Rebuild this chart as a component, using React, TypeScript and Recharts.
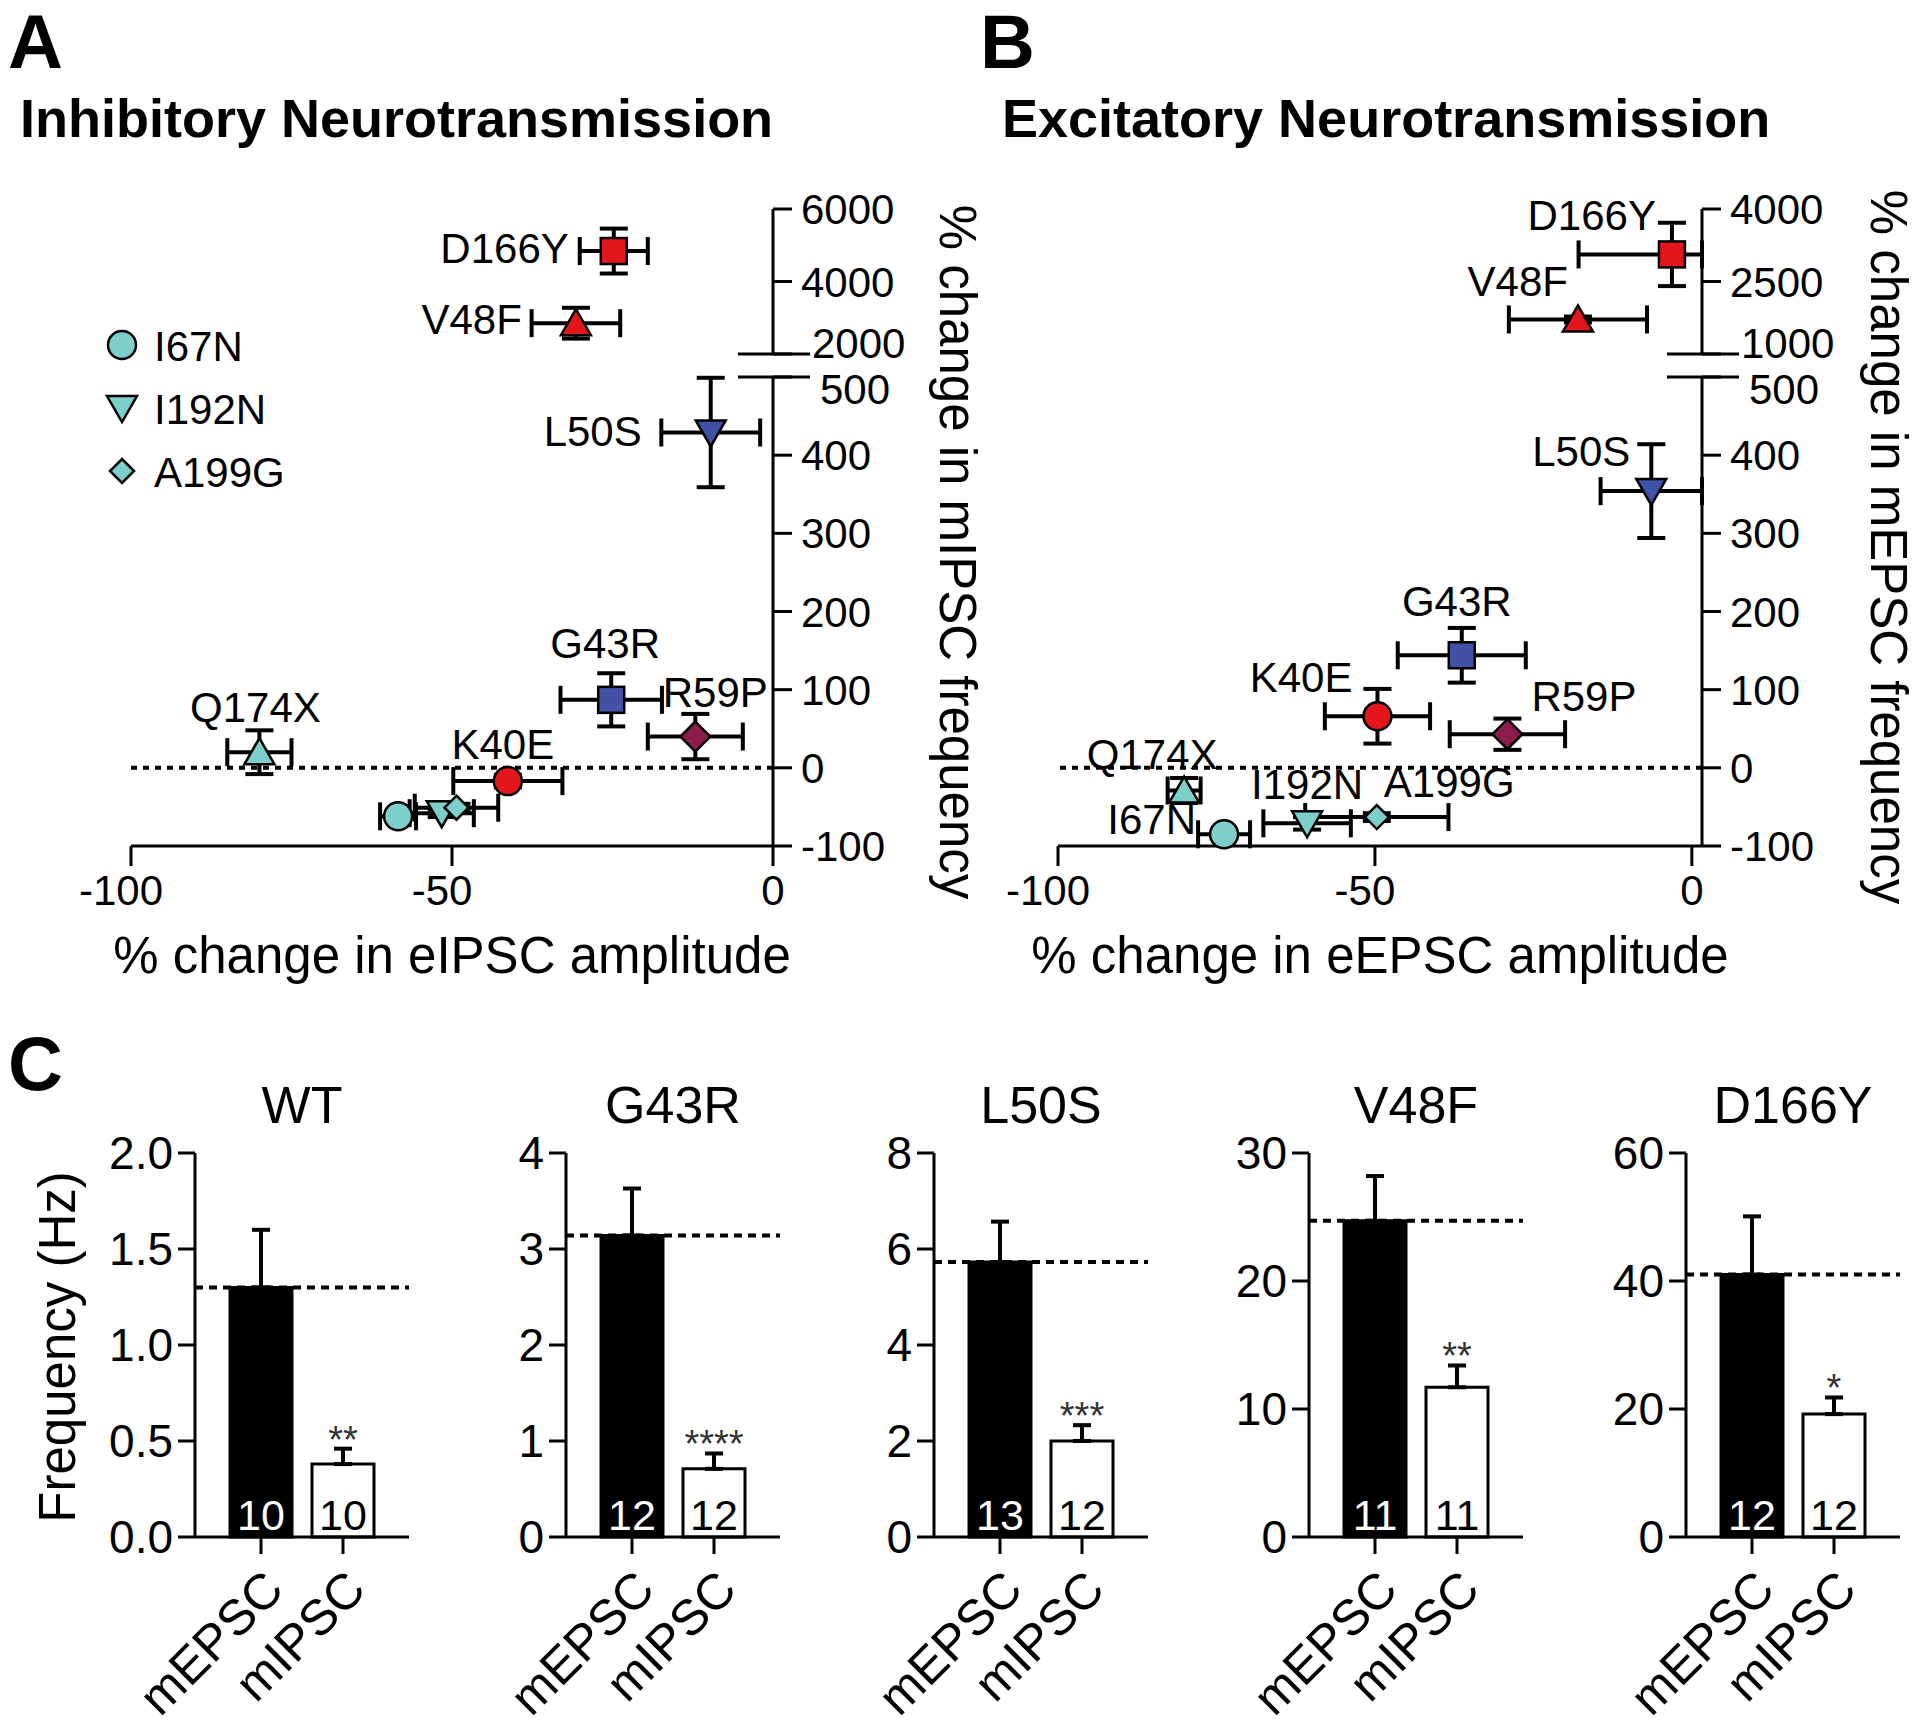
import React from 'react'
import {
    ScatterChart,
    Scatter,
    BarChart,
    Bar,
    Cell,
    XAxis,
    YAxis,
    ErrorBar,
    ReferenceLine,
    LabelList,
    Label
} from 'recharts'

const FONT = '"Liberation Sans", Arial, Helvetica, sans-serif'

// colours
const cyan = '#7dcfca'
const red = '#e3161c'
const blue = '#4152a6'
const maroon = '#8c1c4c'

// mutants, shown in both scatter panels
const mutants = ['I67N', 'I192N', 'A199G', 'Q174X', 'K40E', 'R59P', 'G43R', 'L50S', 'V48F', 'D166Y']
const markerKinds = ['circle', 'down', 'diamondSmall', 'up', 'circle', 'diamond', 'square', 'down', 'up', 'square']
const markerColors = [cyan, cyan, cyan, cyan, red, maroon, blue, blue, red, red]

// A: inhibitory (% change eIPSC amplitude vs % change mIPSC frequency)
const inhAmp = [-58.4, -51.6, -49.3, -80.0, -41.3, -12.1, -25.2, -9.7, -30.7, -24.8]
const inhAmpErr = [2.8, 5.0, 6.5, 5.0, 8.5, 7.4, 7.9, 7.7, 6.9, 5.3]
const inhFreq = [-62, -58, -51, 20, -17, 40, 87, 429, 2850, 4840]
const inhFreqErr = [5, 5, 5, 28, 8, 29, 34, 70, 425, 620]

// B: excitatory (% change eEPSC amplitude vs % change mEPSC frequency)
const excAmp = [-73.8, -60.7, -49.7, -80.1, -49.6, -29.1, -36.3, -6.4, -18.7, -4.0]
const excAmpErr: (number | number[])[] = [4.1, 6.9, 11.3, 2.6, 8.3, 9.1, 10.1, 8.0, 10.8, [14.6, 4.7]]
const excFreq = [-85, -71, -63, -29, 66, 43, 144, 354, 1715, 3060]
const excFreqErr = [5, 8, 5, 16, 35, 20, 35, 60, 60, 655]

// axis ticks
const ampTicks = [-100, -50, 0]
const lowerTicks = [-100, 0, 100, 200, 300, 400, 500]
const inhUpperTicks = [2000, 4000, 6000]
const excUpperTicks = [1000, 2500, 4000]

// C: mini frequency (Hz)
const freqPanels = ['WT', 'G43R', 'L50S', 'V48F', 'D166Y']
const freqCats = ['mEPSC', 'mIPSC']
const mepscMean = [1.30, 3.14, 5.73, 24.7, 41.0]
const mepscSem = [0.30, 0.49, 0.84, 3.5, 9.1]
const mipscMean = [0.38, 0.71, 2.0, 11.7, 19.2]
const mipscSem = [0.08, 0.16, 0.33, 1.7, 2.6]
const mepscN = [10, 12, 13, 11, 12]
const mipscN = [10, 12, 12, 11, 12]
const sigStars = ['**', '****', '***', '**', '*']
const freqMax = [2, 4, 8, 30, 60]
const freqTicks = [[0, 0.5, 1, 1.5, 2], [0, 1, 2, 3, 4], [0, 2, 4, 6, 8], [0, 10, 20, 30], [0, 20, 40, 60]]
const freqDecimals = [1, 0, 0, 0, 0]

// label placement next to each marker: dx, dy, anchor
type LabelPos = [number, number, 'start' | 'middle' | 'end']
const inhLabelPos: Record<string, LabelPos> = {
    Q174X: [-4, -45, 'middle'],
    K40E: [-5, -37, 'middle'],
    R59P: [20, -45, 'middle'],
    G43R: [-6, -57, 'middle'],
    L50S: [-69, -2, 'end'],
    V48F: [-54, -4, 'end'],
    D166Y: [-45, -3, 'end']
}
const excLabelPos: Record<string, LabelPos> = {
    I67N: [-28, -15, 'end'],
    I192N: [0, -39, 'middle'],
    A199G: [7, -35, 'start'],
    Q174X: [-32, -37, 'middle'],
    K40E: [-25, -39, 'end'],
    R59P: [24, -38, 'start'],
    G43R: [-5, -54, 'middle'],
    L50S: [-21, -40, 'end'],
    V48F: [-10, -39, 'end'],
    D166Y: [-16, -40, 'end']
}

type Pt = { name: string; kind: string; color: string; x: number; y: number; ex: number | number[]; ey: number }

const buildPoints = (amp: number[], ampErr: (number | number[])[], freq: number[], freqErr: number[]): Pt[] =>
    mutants.map((name, i) => ({
        name,
        kind: markerKinds[i],
        color: markerColors[i],
        x: amp[i],
        y: freq[i],
        ex: ampErr[i],
        ey: freqErr[i]
    }))

const inhPoints = buildPoints(inhAmp, inhAmpErr, inhFreq, inhFreqErr)
const excPoints = buildPoints(excAmp, excAmpErr, excFreq, excFreqErr)

const Marker = ({ cx, cy, kind, color }: { cx: number; cy: number; kind: string; color: string }) => {
    const st = { fill: color, stroke: '#000', strokeWidth: 2.5 }
    if (kind === 'circle') return <circle cx={cx} cy={cy} r={14} {...st} />
    if (kind === 'square') return <rect x={cx - 13} y={cy - 13} width={26} height={26} {...st} />
    if (kind === 'up') return <polygon points={`${cx},${cy - 14} ${cx + 15},${cy + 12} ${cx - 15},${cy + 12}`} {...st} />
    if (kind === 'down') return <polygon points={`${cx - 15},${cy - 12} ${cx + 15},${cy - 12} ${cx},${cy + 14}`} {...st} />
    const d = kind === 'diamond' ? 15 : 12
    return <polygon points={`${cx},${cy - d} ${cx + d},${cy} ${cx},${cy + d} ${cx - d},${cy}`} {...st} />
}

const XTick = ({ x, y, payload }: any) => (
    <text x={x - (payload.value < 0 ? 10 : 0)} y={y} dy="0.71em" textAnchor="middle" fontSize={42} fill="#000">
        {payload.value}
    </text>
)

// right-hand y ticks; the break value gets the long double-bar mark
const YTick = ({ x, y, payload, brk, brkDx, brkDy }: any) => {
    const isBrk = payload.value === brk
    const ax = x - 28
    return (
        <g>
            {isBrk && <line x1={ax - 35} x2={ax + 37} y1={y} y2={y} stroke="#000" strokeWidth={3} />}
            <text x={x + (isBrk ? brkDx : 0)} y={y + (isBrk ? brkDy : 0)} dy="0.36em" fontSize={42} fill="#000">
                {payload.value}
            </text>
        </g>
    )
}

const axisStyle = { stroke: '#000', strokeWidth: 3 }
const errStyle = { stroke: '#000', strokeWidth: 4 }

const seriesFor = (list: Pt[], labelPos: Record<string, LabelPos>) => [
    ...list.map((p) => (
        <Scatter key={`e-${p.name}`} data={[p]} isAnimationActive={false} shape={() => <g />}>
            <ErrorBar dataKey="ex" direction="x" width={14} {...errStyle} />
            <ErrorBar dataKey="ey" direction="y" width={14} {...errStyle} />
        </Scatter>
    )),
    ...list.map((p) => {
        const lp = labelPos[p.name]
        return (
            <Scatter
                key={`m-${p.name}`}
                data={[p]}
                isAnimationActive={false}
                shape={(s: any) => (
                    <g>
                        <Marker cx={s.cx} cy={s.cy} kind={p.kind} color={p.color} />
                        {lp && (
                            <text x={s.cx + lp[0]} y={s.cy + lp[1]} dy="0.36em" textAnchor={lp[2]} fontSize={42} fill="#000">
                                {p.name}
                            </text>
                        )}
                    </g>
                )}
            />
        )
    })
]

type PanelProps = {
    pts: Pt[]
    labelPos: Record<string, LabelPos>
    svgLeft: number
    plotLeft: number
    plotRight: number
    upperTicks: number[]
    xTitle: string
}

const ScatterPanel = ({ pts, labelPos, svgLeft, plotLeft, plotRight, upperTicks, xTitle }: PanelProps) => {
    const W = 960
    const H = 1010
    const YW = 110
    const ml = plotLeft - svgLeft
    const mr = W - (plotRight - svgLeft) - YW
    const lowMax = lowerTicks[lowerTicks.length - 1]
    const upper = pts.filter((p) => p.y > lowMax)
    const lower = pts.filter((p) => p.y <= lowMax)
    const upperDomain = [upperTicks[0], upperTicks[upperTicks.length - 1]]
    return (
        <>
            {/* lower segment, -100 .. 500 */}
            <div style={{ position: 'absolute', left: svgLeft, top: 0 }}>
                <ScatterChart width={W} height={H} margin={{ top: 377, left: ml, right: mr, bottom: H - 846 - 150 }}>
                    <XAxis
                        type="number"
                        dataKey="x"
                        domain={[ampTicks[0], ampTicks[ampTicks.length - 1]]}
                        ticks={ampTicks}
                        height={150}
                        tickSize={20}
                        tickMargin={9}
                        axisLine={axisStyle}
                        tickLine={axisStyle}
                        tick={<XTick />}
                    >
                        <Label value={xTitle} position="insideBottom" offset={23} fontSize={51} fill="#000" />
                    </XAxis>
                    <YAxis
                        type="number"
                        dataKey="y"
                        orientation="right"
                        domain={[lowerTicks[0], lowMax]}
                        ticks={lowerTicks}
                        width={YW}
                        tickSize={19}
                        tickMargin={9}
                        axisLine={axisStyle}
                        tickLine={axisStyle}
                        tick={(p: any) => <YTick {...p} brk={lowMax} brkDx={19} brkDy={12} />}
                    />
                    <ReferenceLine y={0} stroke="#000" strokeWidth={4} strokeDasharray="6 6" />
                    {seriesFor(lower, labelPos)}
                </ScatterChart>
            </div>
            {/* upper segment above the axis break */}
            <div style={{ position: 'absolute', left: svgLeft, top: 0 }}>
                <ScatterChart width={W} height={H} margin={{ top: 209, left: ml, right: mr, bottom: H - 354 }}>
                    <XAxis
                        type="number"
                        dataKey="x"
                        domain={[ampTicks[0], ampTicks[ampTicks.length - 1]]}
                        hide
                        height={0}
                    />
                    <YAxis
                        type="number"
                        dataKey="y"
                        orientation="right"
                        domain={upperDomain}
                        ticks={upperTicks}
                        width={YW}
                        tickSize={19}
                        tickMargin={9}
                        axisLine={axisStyle}
                        tickLine={axisStyle}
                        tick={(p: any) => <YTick {...p} brk={upperTicks[0]} brkDx={11} brkDy={-11} />}
                    />
                    {seriesFor(upper, labelPos)}
                </ScatterChart>
            </div>
        </>
    )
}

const freqAxisX = [195, 566, 934, 1309, 1686]

const RotTick = ({ x, y, payload }: any) => {
    const ax = x + 25
    const ay = y + 38
    return (
        <text x={ax} y={ay} transform={`rotate(-45 ${ax} ${ay})`} textAnchor="end" fontSize={50} fill="#000">
            {payload.value}
        </text>
    )
}

const FreqPanel = ({ i }: { i: number }) => {
    const data = [
        { cat: freqCats[0], v: mepscMean[i], e: [0, mepscSem[i]], n: mepscN[i] },
        { cat: freqCats[1], v: mipscMean[i], e: [0, mipscSem[i]], n: mipscN[i] }
    ]
    const stars = (p: any) => {
        const vb = p.viewBox || p
        if (p.index !== 1) return null
        const errTop = vb.y - vb.height * (mipscSem[i] / mipscMean[i])
        return (
            <text x={vb.x + vb.width / 2} y={errTop + 4} textAnchor="middle" fontSize={38} fill="#333">
                {sigStars[i]}
            </text>
        )
    }
    const count = (p: any) => {
        const vb = p.viewBox || p
        return (
            <text x={vb.x + vb.width / 2} y={vb.y + vb.height - 7} textAnchor="middle" fontSize={43} fill={p.index === 0 ? '#fff' : '#000'}>
                {p.value}
            </text>
        )
    }
    return (
        <div style={{ position: 'absolute', left: freqAxisX[i] - 100, top: 1100 }}>
            <BarChart width={324} height={633} data={data} margin={{ top: 53, right: 10, left: 0, bottom: 0 }} barSize={62}>
                <XAxis
                    dataKey="cat"
                    padding={{ left: 25, right: 25 }}
                    height={196}
                    tickSize={17}
                    tickMargin={0}
                    interval={0}
                    axisLine={axisStyle}
                    tickLine={axisStyle}
                    tick={<RotTick />}
                />
                <YAxis
                    domain={[0, freqMax[i]]}
                    ticks={freqTicks[i]}
                    width={100}
                    tickSize={17}
                    tickMargin={5}
                    axisLine={axisStyle}
                    tickLine={axisStyle}
                    tick={{ fill: '#000', fontSize: 46 }}
                    tickFormatter={(v: number) => v.toFixed(freqDecimals[i])}
                />
                <ReferenceLine y={mepscMean[i]} stroke="#000" strokeWidth={4} strokeDasharray="8 6" />
                <Bar dataKey="v" isAnimationActive={false} stroke="#000" strokeWidth={3}>
                    <Cell fill="#000" />
                    <Cell fill="#fff" />
                    <ErrorBar dataKey="e" direction="y" width={9} {...errStyle} />
                    <LabelList dataKey="n" content={count} />
                    <LabelList dataKey="v" content={stars} />
                </Bar>
            </BarChart>
        </div>
    )
}

const legendKinds = [0, 1, 2]

const App = () => {
    return (
        <div
            style={{
                position: 'absolute',
                left: 0,
                top: 0,
                width: 1920,
                height: 1733,
                background: '#fff',
                fontFamily: FONT,
                overflow: 'hidden'
            }}
        >
            <ScatterPanel
                pts={inhPoints}
                labelPos={inhLabelPos}
                svgLeft={0}
                plotLeft={131}
                plotRight={773}
                upperTicks={inhUpperTicks}
                xTitle="% change in eIPSC amplitude"
            />
            <ScatterPanel
                pts={excPoints}
                labelPos={excLabelPos}
                svgLeft={960}
                plotLeft={1058}
                plotRight={1702}
                upperTicks={excUpperTicks}
                xTitle="% change in eEPSC amplitude"
            />
            {freqPanels.map((_, i) => (
                <FreqPanel key={i} i={i} />
            ))}

            {/* free text: panel letters, titles, rotated axis titles, legend */}
            <svg width={1920} height={1733} style={{ position: 'absolute', left: 0, top: 0, pointerEvents: 'none' }}>
                <g fontWeight="bold" fill="#000">
                    <text x={8} y={68} fontSize={76}>A</text>
                    <text x={980} y={68} fontSize={76}>B</text>
                    <text x={8} y={1090} fontSize={76}>C</text>
                    <text x={20} y={137} fontSize={54}>Inhibitory Neurotransmission</text>
                    <text x={1002} y={137} fontSize={54}>Excitatory Neurotransmission</text>
                </g>
                <text transform="translate(940,552) rotate(90)" textAnchor="middle" fontSize={51} fill="#000">
                    % change in mIPSC frequency
                </text>
                <text transform="translate(1871,547) rotate(90)" textAnchor="middle" fontSize={51} fill="#000">
                    % change in mEPSC frequency
                </text>
                <text transform="translate(75,1347) rotate(-90)" textAnchor="middle" fontSize={51} fill="#000">
                    Frequency (Hz)
                </text>
                {freqPanels.map((t, i) => (
                    <text key={t} x={freqAxisX[i] + 107} y={1123} textAnchor="middle" fontSize={52} fill="#000">
                        {t}
                    </text>
                ))}
                {legendKinds.map((k, j) => (
                    <g key={k}>
                        <Marker cx={122} cy={345 + j * 63} kind={markerKinds[k]} color={markerColors[k]} />
                        <text x={154} y={346 + j * 63} dy="0.36em" fontSize={42} fill="#000">
                            {mutants[k]}
                        </text>
                    </g>
                ))}
            </svg>
        </div>
    )
}

export default App
